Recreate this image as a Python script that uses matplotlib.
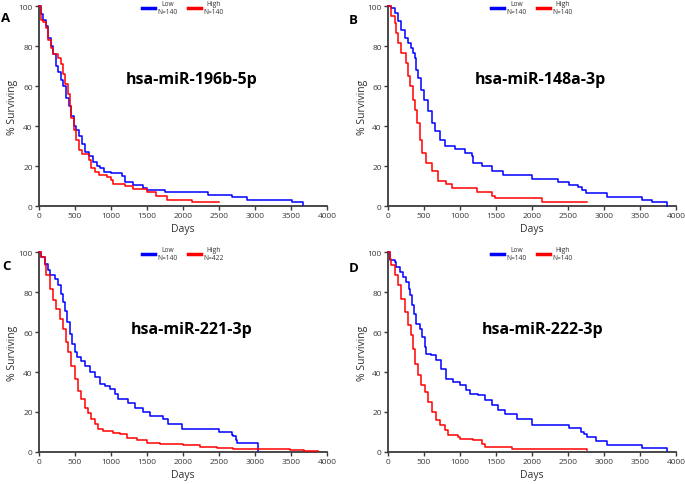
import matplotlib
matplotlib.use("Agg")
import matplotlib.pyplot as plt
from matplotlib.lines import Line2D

plt.rcParams['font.family'] = ['Open Sans', 'DejaVu Sans']

# ---------------- data (days, % surviving), step-function breakpoints ----------------
A_low_t = [0, 30, 60, 100, 130, 160, 200, 230, 260, 300, 340, 380, 420, 450, 480, 520, 560, 600,
           640, 700, 750, 800, 850, 900, 1000, 1150, 1200, 1300, 1450, 1500, 1750, 2350, 2680,
           2890, 3510, 3660]
A_low_s = [100, 96, 93, 90, 84, 80, 76, 70, 67, 63, 60, 54, 50, 45, 40, 38, 35, 31,
           27, 25, 22, 20, 19, 17, 16.5, 15, 12, 10.5, 9, 8, 7.2, 5.7, 4.3,
           3, 1.8, 0.5]
A_high_t = [0, 30, 60, 100, 130, 160, 200, 260, 300, 330, 360, 400, 430, 450, 480, 520, 560, 600,
            700, 720, 780, 830, 950, 1000, 1030, 1200, 1300, 1500, 1620, 1780, 2120, 2505]
A_high_s = [100, 93, 92, 89, 83, 79, 76, 74, 71, 66, 61, 56, 50, 44, 38, 33, 28, 26,
            23, 19, 17, 15.5, 14.5, 13, 11, 10, 8.5, 7, 5, 3.2, 1.8, 1.8]

B_low_t = [0, 46, 93, 139, 186, 232, 278, 325, 348, 371, 394, 418, 455, 501, 557, 612, 650, 719,
           789, 928, 1067, 1160, 1183, 1299, 1439, 1601, 1995, 2366, 2518, 2643, 2700, 2750,
           3046, 3524, 3662, 3880]
B_low_s = [100, 99, 96.7, 92.5, 88, 84, 81.7, 79, 76.7, 74, 68, 64, 58, 53, 47.5, 41.7, 37.5, 33,
           30, 28.3, 26.7, 25, 21.7, 20, 17.5, 15.5, 13.3, 11.8, 10.7, 9.5, 8, 6.3,
           4.7, 3, 1.8, 0]
B_high_t = [0, 46, 93, 116, 139, 186, 255, 278, 302, 348, 380, 408, 441, 473, 534, 612, 696, 812,
            882, 1230, 1438, 1485, 2134, 2768]
B_high_s = [100, 95, 91.7, 86.7, 81.7, 76.7, 71.7, 65, 60, 53, 48, 41.7, 33, 26.7, 21.7, 17.5, 12.5, 10.8,
            8.8, 7.2, 5, 3.8, 2.2, 2.2]

C_low_t = [0, 32, 79, 125, 148, 218, 265, 311, 334, 357, 390, 427, 464, 496, 529, 589, 636, 706,
           775, 845, 914, 984, 1053, 1100, 1239, 1332, 1448, 1541, 1726, 1796, 1981, 2505, 2676,
           2700, 2737, 2745, 2755, 3037]
C_low_s = [100, 97.5, 94, 90.8, 88.3, 86.6, 83.3, 79, 75, 70.7, 65, 59, 54, 50, 47.3, 45.6, 43, 39.8,
           37.3, 34, 33.1, 31.4, 29, 26.4, 24.7, 22.2, 20, 18, 16.4, 13.9, 11.7, 9.8, 8.5,
           7.8, 6.2, 5.2, 4.3, 0.7]
C_high_t = [0, 32, 79, 102, 148, 195, 241, 288, 334, 380, 404, 450, 496, 543, 589, 636, 682, 729,
            775, 821, 891, 1030, 1123, 1216, 1355, 1494, 1680, 2005, 2237, 2469, 2700, 2979,
            3490, 3675, 3880]
C_high_s = [100, 97.5, 93.3, 88.3, 81.6, 75.8, 71.6, 66.6, 61.5, 55, 50, 43, 36.5, 30.6, 26.4, 22.2, 19.7, 16.4,
            13.9, 11.7, 10.5, 9.7, 8.9, 7.2, 6, 4.7, 3.8, 3.3, 2.7, 2.2, 1.7, 1.4,
            1.0, 0.5, 0.3]

D_low_t = [0, 23, 93, 116, 162, 209, 255, 288, 311, 334, 362, 394, 441, 473, 510, 534, 603, 673,
           743, 812, 905, 998, 1090, 1137, 1253, 1346, 1439, 1532, 1624, 1787, 1995, 2518, 2676,
           2720, 2768, 2893, 3046, 3524, 3880]
D_low_s = [100, 95.8, 95, 92.5, 90, 87.5, 85, 81.7, 78.3, 73.3, 69, 64, 61.7, 57.5, 52.5, 49, 48.3, 45.8,
           41.7, 36.7, 35, 33.3, 30.8, 29.2, 28.3, 25.8, 23.3, 20.8, 19.2, 16.7, 13.3, 11.8, 10.2,
           9, 7.3, 5.7, 3.7, 1.8, 0.5]
D_high_t = [0, 23, 46, 93, 139, 186, 232, 278, 316, 348, 380, 418, 464, 510, 557, 612, 673, 719,
            789, 835, 975, 998, 1183, 1299, 1346, 1717, 2768]
D_high_s = [100, 96.7, 93.3, 88.3, 83.3, 76.7, 70, 63.3, 58.3, 51.7, 44, 38.3, 33.3, 30, 25, 20, 15.8, 13.3,
            10.8, 8.3, 7.5, 6.7, 5.8, 4.2, 2.5, 1.3, 1.2]

panels = [
    ("A", "hsa-miR-196b-5p", A_low_t, A_low_s, A_high_t, A_high_s, "N=140", "N=140"),
    ("B", "hsa-miR-148a-3p", B_low_t, B_low_s, B_high_t, B_high_s, "N=140", "N=140"),
    ("C", "hsa-miR-221-3p", C_low_t, C_low_s, C_high_t, C_high_s, "N=140", "N=422"),
    ("D", "hsa-miR-222-3p", D_low_t, D_low_s, D_high_t, D_high_s, "N=140", "N=140"),
]
x_ticks = [0, 500, 1000, 1500, 2000, 2500, 3000, 3500, 4000]
y_ticks = [0, 20, 40, 60, 80, 100]

# ---------------- layout (pixels) ----------------
W, H = 685, 485
fig = plt.figure(figsize=(W / 100, H / 100), dpi=100)
boxes = [(39, 7), (388, 7), (39, 253), (388, 253)]  # left, top in px
aw, ah = 288, 200
title_pos = [(2125, 63.5), (2111, 63.5), (2125, 61.5), (2153, 61.5)]
letter_pos = [(6, 18), (353, 20), (6, 267), (354, 268)]

axcol = '#3a3a3a'
for i, (letter, title, lt, ls, ht, hs, nl, nh) in enumerate(panels):
    l, t = boxes[i]
    ax = fig.add_axes([l / W, 1 - (t + ah) / H, aw / W, ah / H])
    ax.step(lt, ls, where='post', color='#0000ff', lw=1.1, clip_on=False, zorder=3)
    ax.step(ht, hs, where='post', color='#ff0000', lw=1.1, clip_on=False, zorder=3)
    ax.set_xlim(0, 4000)
    ax.set_ylim(0, 100)
    ax.set_xticks(x_ticks)
    ax.set_yticks(y_ticks)
    for s in ['top', 'right']:
        ax.spines[s].set_visible(False)
    for s in ['left', 'bottom']:
        ax.spines[s].set_color(axcol)
        ax.spines[s].set_linewidth(1.3)
    ax.tick_params(direction='out', length=3, width=1, colors=axcol, labelsize=6, pad=1.5)
    ax.set_xlabel('Days', fontsize=7.5, color='#333333', labelpad=3)
    ax.set_ylabel('% Surviving', fontsize=7.5, color='#333333', labelpad=0)
    tx, ty = title_pos[i]
    ax.text(tx, ty, title, ha='center', va='center', fontsize=11.5, fontweight='bold', color='black')
    handles = [Line2D([0], [0], color='#0000ff', lw=2.5), Line2D([0], [0], color='#ff0000', lw=2.5)]
    leg = ax.legend(handles, ['Low\n' + nl, 'High\n' + nh], ncol=2, loc='upper center',
                    bbox_to_anchor=(0.5, 1.045), frameon=False, fontsize=4.8,
                    handlelength=1.9, handletextpad=0.4, columnspacing=1.6, borderpad=0,
                    labelspacing=0)
    for txt in leg.get_texts():
        txt.set_multialignment('center')
        txt.set_color('#333333')
    lx, ly = letter_pos[i]
    fig.text(lx / W, 1 - ly / H, letter, ha='center', va='center', fontsize=9.5, fontweight='bold')

fig.savefig('out.png', dpi=100)
